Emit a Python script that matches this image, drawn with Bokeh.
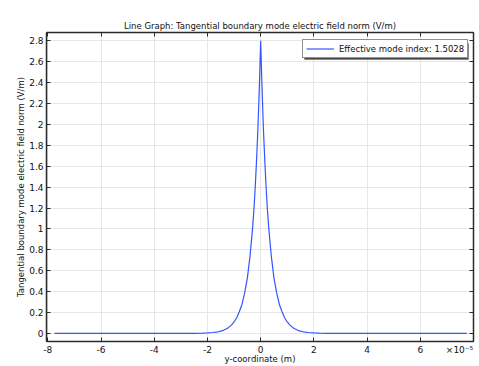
from bokeh.plotting import figure
from bokeh.models import (ColumnDataSource, Range1d, FixedTicker, LinearAxis,
                          Legend, LegendItem, BoxAnnotation)
from bokeh.embed import file_html
from bokeh.resources import INLINE

# y-coordinate in units of 1e-5 m (axis shows x10^-5)
x_right = [0.0, 0.05, 0.1, 0.15, 0.2, 0.25, 0.3, 0.4, 0.5, 0.6, 0.7, 0.8, 0.9,
           1.0, 1.1, 1.2, 1.3, 1.4, 1.5, 1.6, 1.8, 2.0, 2.2, 2.5, 3.0, 4.0,
           5.0, 6.0, 7.0, 7.75]
e_right = [2.8, 2.36, 1.98, 1.68, 1.42, 1.2, 1.02, 0.74, 0.53, 0.39, 0.28, 0.21,
           0.15, 0.11, 0.08, 0.058, 0.042, 0.03, 0.022, 0.016, 0.009, 0.005,
           0.003, 0.0015, 0.0005, 0.0, 0.0, 0.0, 0.0, 0.0]

xs = [-v for v in x_right[::-1]] + x_right[1:]
es = e_right[::-1] + e_right[1:]

x_ticks = [-8, -6, -4, -2, 0, 2, 4, 6, 8]
x_tick_labels = ["-8", "-6", "-4", "-2", "0", "2", "4", "6",
                 "×10⁻⁵\u2002\u2009"]
y_ticks = [0, 0.2, 0.4, 0.6, 0.8, 1, 1.2, 1.4, 1.6, 1.8, 2, 2.2, 2.4, 2.6, 2.8]
y_tick_labels = ["0", "0.2", "0.4", "0.6", "0.8", "1", "1.2", "1.4", "1.6",
                 "1.8", "2", "2.2", "2.4", "2.6", "2.8"]
legend_label = "Effective mode index: 1.5028"

FONT = "DejaVu Sans"
TXT = "#111111"
AX = "#2a2a2a"

p = figure(width=479, height=366, output_backend="svg", toolbar_location=None,
           x_range=Range1d(-8.05, 8.0), y_range=Range1d(-0.077, 2.88),
           min_border_left=46, min_border_right=6, min_border_top=32,
           min_border_bottom=22)

p.title.text = "Line Graph: Tangential boundary mode electric field norm (V/m)"
p.title.align = "center"
p.title.text_font = FONT
p.title.text_font_size = "8.5px"
p.title.text_font_style = "normal"
p.title.text_color = TXT
p.title.standoff = 4

src = ColumnDataSource(dict(x=xs, y=es))
r = p.line("x", "y", source=src, line_color="#3355ff", line_width=1.2)

p.xaxis.ticker = FixedTicker(ticks=x_ticks)
p.yaxis.ticker = FixedTicker(ticks=y_ticks)
p.xaxis.major_label_overrides = dict(zip(x_ticks, x_tick_labels))
p.yaxis.major_label_overrides = dict(zip(y_ticks, y_tick_labels))
p.xaxis.axis_label = "y-coordinate (m)"
p.yaxis.axis_label = "Tangential boundary mode electric field norm (V/m)"

for ax in (p.xaxis[0], p.yaxis[0]):
    ax.axis_label_text_font = FONT
    ax.axis_label_text_font_size = "8.5px"
    ax.axis_label_text_font_style = "normal"
    ax.axis_label_text_color = TXT
    ax.major_label_text_font = FONT
    ax.major_label_text_font_size = "9px"
    ax.major_label_text_color = TXT
    ax.axis_line_color = AX
    ax.axis_line_width = 1.5
    ax.major_tick_line_color = AX
    ax.minor_tick_line_color = None
    ax.major_tick_in = 4
    ax.major_tick_out = 0
    ax.major_label_standoff = 3
p.xaxis[0].axis_label_standoff = -4
p.yaxis[0].axis_label_standoff = 0

# mirrored axes with inward ticks on top and right
for loc, ticks in (("above", x_ticks), ("right", y_ticks)):
    ax = LinearAxis(ticker=FixedTicker(ticks=ticks), major_label_text_font_size="0px",
                    major_tick_in=4, major_tick_out=0, minor_tick_line_color=None,
                    axis_line_color=AX, axis_line_width=1.5,
                    major_tick_line_color=AX, major_label_standoff=0)
    ax.major_label_text_color = None
    p.add_layout(ax, loc)

p.xgrid.ticker = FixedTicker(ticks=x_ticks)
p.ygrid.ticker = FixedTicker(ticks=y_ticks)
p.grid.grid_line_color = "#e6e6e6"
p.outline_line_color = AX

# legend drop shadow (decoration, canvas pixels)
shadow = BoxAnnotation(left=304, right=468, top=43, bottom=59,
                       left_units="canvas", right_units="canvas",
                       top_units="canvas", bottom_units="canvas",
                       fill_color="#4a4a4a", fill_alpha=1.0,
                       line_color="#4a4a4a", line_width=1)
p.add_layout(shadow)

legend = Legend(items=[LegendItem(label=legend_label, renderers=[r])],
                location=(256, 283))
legend.label_text_font = FONT
legend.label_text_font_size = "8.5px"
legend.label_text_color = TXT
legend.padding = 3
legend.spacing = 0
legend.margin = 0
legend.glyph_width = 28
legend.label_height = 11
legend.glyph_height = 11
legend.background_fill_color = "white"
legend.background_fill_alpha = 1
legend.border_line_color = "#222222"
legend.border_line_width = 1.2
p.add_layout(legend)

open("out.html", "w").write(file_html(p, INLINE))
